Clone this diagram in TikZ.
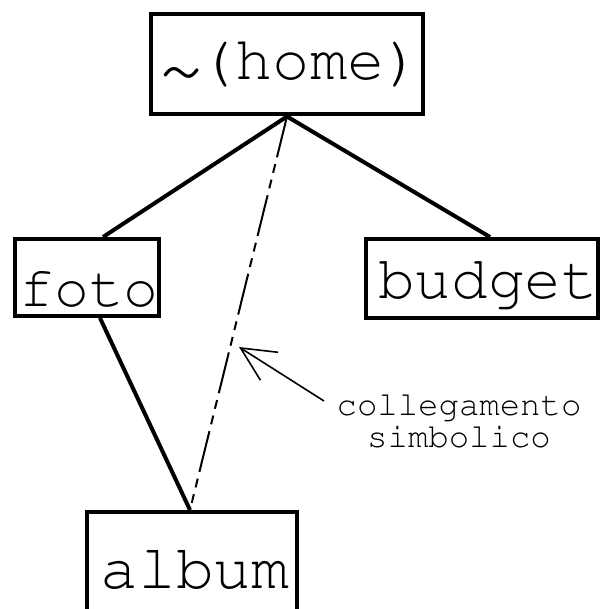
\documentclass[tikz,border=0pt]{standalone}
\usepackage[T1]{fontenc}
\usepackage{courier}
\usepackage{graphicx}
\usetikzlibrary{arrows.meta}
\tikzset{
  dirbox/.style={draw, line width=4bp, inner sep=0pt, text depth=0pt},
  tree/.style={line width=4bp},
  symlink/.style={line width=2bp, dash pattern=on 42bp off 7bp on 9bp off 7bp on 9bp off 7bp},
  pointer/.style={line width=1.6bp, -{Straight Barb[length=34bp,width=33bp,line width=1.6bp]}},
}
\newcommand{\nudge}[2]{\hspace*{#1}#2\hspace*{-#1}}
\newcommand{\bigtilde}{\raisebox{-16bp}{\scalebox{1.35}[1.3]{\symbol{126}}}\hspace*{-8bp}}
\begin{document}
\begin{tikzpicture}[x=1bp,y=-1bp]
\useasboundingbox (0,0) rectangle (608,609);
\node[dirbox, minimum width=272bp, minimum height=100bp, text height=31bp,
  font=\ttfamily\fontsize{62bp}{62bp}\selectfont] (home) at (287,64.5)
  {\nudge{2bp}{\bigtilde(home)}};
\node[dirbox, minimum width=144bp, minimum height=77bp, text height=58bp,
  font=\ttfamily\fontsize{58bp}{58bp}\selectfont] (foto) at (87,277.5) {\nudge{2bp}{foto}};
\node[dirbox, minimum width=232bp, minimum height=79bp, text height=39bp,
  font=\ttfamily\fontsize{61bp}{61bp}\selectfont] (budget) at (482,278.5) {\nudge{6bp}{budget}};
\node[dirbox, minimum width=210bp, minimum height=102bp, text height=50bp,
  font=\ttfamily\fontsize{63bp}{63bp}\selectfont] (album) at (192,563) {\nudge{3bp}{album}};
\node[align=center, anchor=base, inner sep=0pt,
  font=\ttfamily\fontsize{34bp}{32bp}\selectfont] (lbl) at (459,447) {collegamento\\simbolico};
\draw[tree] (home.south) -- ([xshift=16bp]foto.north);
\draw[tree] (home.south) -- ([xshift=8bp]budget.north);
\draw[tree] ([xshift=13bp]foto.south) -- ([xshift=-2bp]album.north);
\draw[symlink] (home.south) -- ([xshift=-2bp]album.north);
\coordinate (tail) at (324,401);
\coordinate (tip) at (239,347);
\draw[pointer] (tail) -- (tip);
\end{tikzpicture}
\end{document}
